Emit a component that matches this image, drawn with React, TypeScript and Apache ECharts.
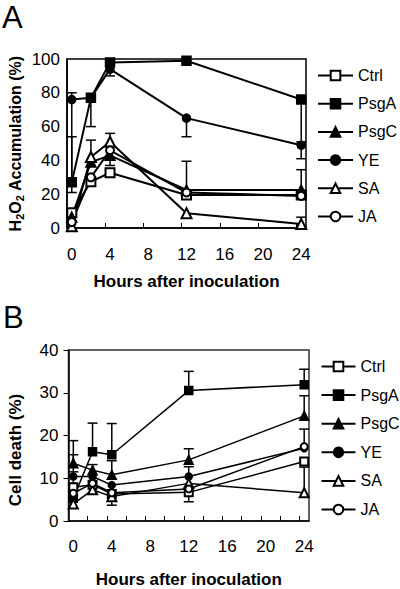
import React, { useEffect, useRef } from "react";
import * as echarts from "echarts";

const HOURS = [0, 2, 4, 12, 24];
const SERIES_NAMES = ["Ctrl", "PsgA", "PsgC", "YE", "SA", "JA"];
const SYMBOLS = ["emptyRect", "rect", "triangle", "circle", "emptyTriangle", "emptyCircle"];

// Panel A: H2O2 accumulation (%)
const A_CTRL = [9, 27.4, 32.7, 19.5, 19.5];
const A_PSGA = [27, 77, 98, 99, 76];
const A_PSGC = [6.5, 39, 43, 22.5, 22.5];
const A_YE = [76, 77, 94, 65, 49];
const A_SA = [1, 42, 51, 8.7, 2.4];
const A_JA = [3.5, 30, 46, 21, 19];
// error bars (plus / minus) per series, in series order
const A_ERR_PLUS = [
  [0, 0, 0, 0, 0],
  [27, 0, 0, 0, 0],
  [0, 0, 0, 17, 12],
  [4, 0, 0, 0, 0],
  [0, 10, 5, 0, 4],
  [0, 0, 0, 0, 0],
];
const A_ERR_MINUS = [
  [0, 0, 0, 0, 0],
  [0, 17, 0, 0, 25],
  [0, 0, 6, 0, 0],
  [55, 0, 4, 11, 8],
  [0, 0, 0, 0, 0],
  [0, 0, 0, 0, 0],
];

// Panel B: cell death (%)
const B_CTRL = [7.9, 8.5, 6.3, 6.7, 13.9];
const B_PSGA = [5.3, 16.2, 15.5, 30.5, 31.9];
const B_PSGC = [13.5, 11.9, 10.8, 14.3, 24.6];
const B_YE = [10.4, 10.4, 8.4, 10.4, 17];
const B_SA = [4, 7.3, 5.7, 8.8, 6.6];
const B_JA = [6.5, 8.8, 6.6, 7.5, 17.4];
const B_ERR_PLUS = [
  [3.6, 0, 0, 0, 0],
  [0, 6.7, 7.3, 4.5, 3.6],
  [5.3, 1.3, 3.3, 2.6, 4.7],
  [5.1, 0, 0, 2.3, 0],
  [0, 0, 0, 0, 6],
  [0, 0, 0, 0, 4.1],
];
const B_ERR_MINUS = [
  [0, 0, 0, 2.2, 0],
  [0, 0, 0, 0, 0],
  [0, 0, 0, 0, 0],
  [0, 0, 0, 0, 0],
  [0, 0, 2, 0, 0],
  [0, 0, 0, 0, 0],
];

const A_TICKS_X = [3.5, 7.5, 11.5, 15.5, 19.5, 23.5];
const B_TICKS_X = [1.5, 3.5, 5.5, 7.5, 9.5, 11.5, 13.5, 15.5, 17.5, 19.5, 21.5, 23.5];
const X_LABELS = [0, 4, 8, 12, 16, 20, 24];

const FONT = "'Liberation Sans', Arial, sans-serif";

function App() {
  const ref = useRef<HTMLDivElement>(null);
  useEffect(() => {
    document.body.style.margin = "0";
    const chart = echarts.init(ref.current!, null, { renderer: "svg" });
    const panels = [
      { vals: [A_CTRL, A_PSGA, A_PSGC, A_YE, A_SA, A_JA], plus: A_ERR_PLUS, minus: A_ERR_MINUS, lw: 2, sizes: [9, 9, 10, 8, 10, 8] },
      { vals: [B_CTRL, B_PSGA, B_PSGC, B_YE, B_SA, B_JA], plus: B_ERR_PLUS, minus: B_ERR_MINUS, lw: 1.5, sizes: [8, 8, 9, 7, 9, 7] },
    ];
    const series: any[] = [];
    panels.forEach((p, pi) => {
      const errData: any[] = [];
      p.vals.forEach((vals, si) => {
        vals.forEach((v, k) => {
          const up = p.plus[si][k];
          const dn = p.minus[si][k];
          if (up > 0 || dn > 0) errData.push([HOURS[k], v, v - dn, v + up]);
        });
      });
      series.push({
        type: "custom",
        xAxisIndex: pi,
        yAxisIndex: pi,
        z: 1,
        silent: true,
        clip: true,
        encode: { x: 0, y: [1, 2, 3] },
        data: errData,
        renderItem: (params: any, api: any) => {
          const x = api.value(0);
          const v = api.value(1);
          const lo = api.value(2);
          const hi = api.value(3);
          const pLo = api.coord([x, lo]);
          const pHi = api.coord([x, hi]);
          const w = 5;
          const style = { stroke: "#000", lineWidth: 1.5 };
          const children: any[] = [
            { type: "line", shape: { x1: pLo[0], y1: pLo[1], x2: pHi[0], y2: pHi[1] }, style },
          ];
          if (hi > v) children.push({ type: "line", shape: { x1: pHi[0] - w, y1: pHi[1], x2: pHi[0] + w, y2: pHi[1] }, style });
          if (lo < v) children.push({ type: "line", shape: { x1: pLo[0] - w, y1: pLo[1], x2: pLo[0] + w, y2: pLo[1] }, style });
          return { type: "group", children };
        },
      });
      p.vals.forEach((vals, si) => {
        series.push({
          type: "line",
          name: SERIES_NAMES[si],
          xAxisIndex: pi,
          yAxisIndex: pi,
          z: 3,
          data: HOURS.map((h, k) => [h, vals[k]]),
          symbol: SYMBOLS[si],
          symbolSize: p.sizes[si],
          showAllSymbol: true,
          lineStyle: { color: "#000", width: p.lw },
          itemStyle: { color: "#000", borderColor: "#000", borderWidth: 1.5 },
        });
      });
    });

    const axisLabelStyle = { color: "#000", fontSize: 17, fontFamily: FONT };
    const nameStyle = { color: "#000", fontSize: 17, fontWeight: "bold" as const, fontFamily: FONT };

    const option: any = {
      animation: false,
      backgroundColor: "#fff",
      textStyle: { fontFamily: FONT },
      graphic: [
        { type: "text", left: 2, top: 2, style: { text: "A", fontSize: 31, fontFamily: FONT, fill: "#000" } },
        { type: "text", left: 3, top: 302, style: { text: "B", fontSize: 31, fontFamily: FONT, fill: "#000" } },
        {
          type: "text", x: 15, y: 143.5, rotation: Math.PI / 2,
          style: {
            text: "H{s|2}O{s|2} Accumulation (%)", align: "center", verticalAlign: "middle",
            fontSize: 16, fontWeight: "bold", fontFamily: FONT, fill: "#000",
            rich: { s: { fontSize: 11, fontWeight: "bold", fontFamily: FONT, fill: "#000", padding: [9, 0, 0, 0] } },
          },
        },
        {
          type: "text", x: 15, y: 450, rotation: Math.PI / 2,
          style: { text: "Cell death (%)", align: "center", verticalAlign: "middle", fontSize: 17, fontWeight: "bold", fontFamily: FONT, fill: "#000" },
        },
      ],
      grid: [
        { left: 67, top: 59, width: 239, height: 169, show: true, borderColor: "#000", borderWidth: 1.5, outerBoundsMode: "none", containLabel: false },
        { left: 68.5, top: 350, width: 240.5, height: 171, show: true, borderColor: "#333", borderWidth: 1.5, outerBoundsMode: "none", containLabel: false },
      ],
      xAxis: [
        {
          type: "value", gridIndex: 0, min: -0.5, max: 24.5,
          axisLine: { onZero: false, lineStyle: { color: "#000", width: 1.5 } },
          axisTick: { inside: true, length: 5, customValues: A_TICKS_X, lineStyle: { color: "#000", width: 1 } },
          axisLabel: { ...axisLabelStyle, margin: 18, customValues: X_LABELS },
          splitLine: { show: false },
          name: "Hours after inoculation", nameLocation: "middle", nameGap: 45, nameTextStyle: nameStyle,
        },
        {
          type: "value", gridIndex: 1, min: -0.5, max: 24.5,
          axisLine: { onZero: false, lineStyle: { color: "#000", width: 1.5 } },
          axisTick: { inside: true, length: 5, customValues: B_TICKS_X, lineStyle: { color: "#000", width: 1 } },
          axisLabel: { ...axisLabelStyle, margin: 17, customValues: X_LABELS },
          splitLine: { show: false },
          name: "Hours after inoculation", nameLocation: "middle", nameGap: 50, nameTextStyle: nameStyle,
        },
      ],
      yAxis: [
        {
          type: "value", gridIndex: 0, min: 0, max: 100, interval: 20,
          axisLine: { show: true, onZero: false, lineStyle: { color: "#000", width: 1.5 } },
          axisTick: { show: false },
          axisLabel: { ...axisLabelStyle, margin: 7 },
          splitLine: { show: false },
        },
        {
          type: "value", gridIndex: 1, min: 0, max: 40, interval: 10,
          axisLine: { show: true, onZero: false, lineStyle: { color: "#000", width: 1.5 } },
          axisTick: { show: true, inside: false, length: 5, lineStyle: { color: "#000", width: 1 } },
          axisLabel: { ...axisLabelStyle, margin: 10 },
          splitLine: { show: false },
        },
      ],
      legend: [
        {
          orient: "vertical", left: 317, top: 67.5, padding: 0, itemWidth: 35, itemHeight: 12, itemGap: 12.2,
          selectedMode: false, data: SERIES_NAMES,
          textStyle: { color: "#000", fontSize: 16, fontFamily: FONT },
        },
        {
          orient: "vertical", left: 320.5, top: 358.5, padding: 0, itemWidth: 34, itemHeight: 12, itemGap: 12.6,
          selectedMode: false, data: SERIES_NAMES,
          textStyle: { color: "#000", fontSize: 16, fontFamily: FONT },
        },
      ],
      series,
    };
    chart.setOption(option);
    return () => chart.dispose();
  }, []);
  return <div ref={ref} style={{ width: 400, height: 589 }} />;
}

export default App;
